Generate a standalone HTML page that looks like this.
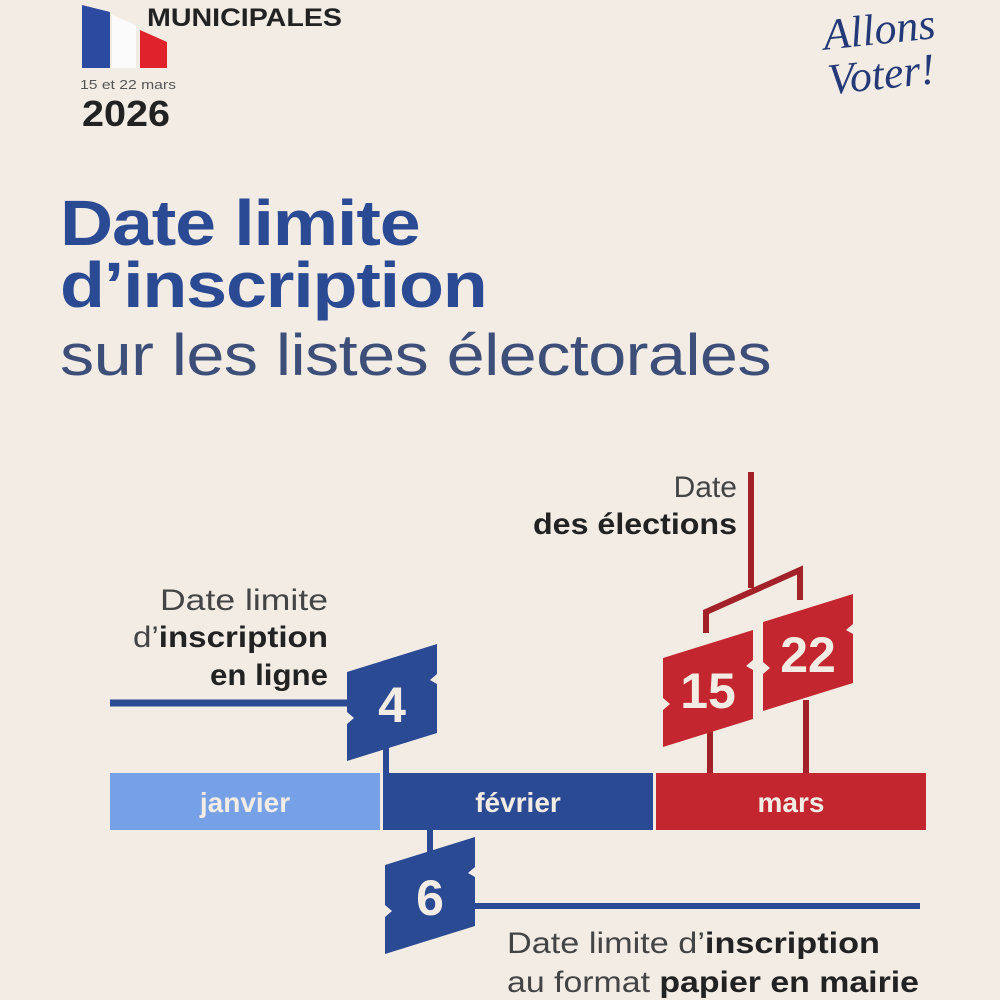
<!DOCTYPE html>
<html><head><meta charset="utf-8"><style>
html,body{margin:0;padding:0;background:#f3ece4;}
svg{display:block}
</style></head><body>
<svg width="1000" height="1000" viewBox="0 0 1000 1000" xmlns="http://www.w3.org/2000/svg" font-family="Liberation Sans, sans-serif">
<rect width="1000" height="1000" fill="#f3ece4"/>
<!-- flag -->
<polygon points="82,5 110,12 110,68 82,68" fill="#2b4aa0"/>
<polygon points="112,15 136,25 136,68 112,68" fill="#fbfbfb"/>
<polygon points="140,30 167,42 167,68 140,68" fill="#e0222a"/>
<text x="147" y="26" font-size="25" font-weight="bold" fill="#222" textLength="195" lengthAdjust="spacingAndGlyphs">MUNICIPALES</text>
<text x="80" y="89" font-size="13" fill="#555" textLength="96" lengthAdjust="spacingAndGlyphs">15 et 22 mars</text>
<text x="82" y="126" font-size="36" font-weight="bold" fill="#222" textLength="88" lengthAdjust="spacingAndGlyphs">2026</text>
<text x="825" y="45" font-size="44" font-style="italic" fill="#243a78" font-family="Liberation Serif, serif" transform="rotate(-6 870 50)">Allons</text>
<text x="828" y="90" font-size="44" font-style="italic" fill="#243a78" font-family="Liberation Serif, serif" transform="rotate(-6 870 80)">Voter!</text>
<!-- title -->
<g transform="translate(60,0) scale(1.15,1)">
<text x="0" y="245" font-size="64" font-weight="bold" fill="#2b4a94" letter-spacing="-1">Date limite</text>
<text x="0" y="307" font-size="64" font-weight="bold" fill="#2b4a94" letter-spacing="-1">d’inscription</text>
</g>
<g transform="translate(60,0) scale(1.18,1)">
<text x="0" y="375" font-size="58" fill="#3d4f78" letter-spacing="-0.5">sur les listes électorales</text>
</g>
<!-- labels -->
<g font-size="30" fill="#222" text-anchor="end">
<text x="737" y="497" fill="#444">Date</text>
<text x="737" y="534" font-weight="bold" textLength="204" lengthAdjust="spacingAndGlyphs">des élections</text>
<text x="328" y="610" fill="#444" textLength="168" lengthAdjust="spacingAndGlyphs">Date limite</text>
<text x="328" y="647" textLength="195" lengthAdjust="spacingAndGlyphs"><tspan fill="#444">d’</tspan><tspan font-weight="bold">inscription</tspan></text>
<text x="328" y="685" font-weight="bold" textLength="118" lengthAdjust="spacingAndGlyphs">en ligne</text>
</g>
<g font-size="30" fill="#222">
<text x="507" y="953" textLength="373" lengthAdjust="spacingAndGlyphs"><tspan fill="#444">Date limite d’</tspan><tspan font-weight="bold">inscription</tspan></text>
<text x="507" y="992" textLength="412" lengthAdjust="spacingAndGlyphs"><tspan fill="#444">au format </tspan><tspan font-weight="bold">papier en mairie</tspan></text>
</g>
<!-- lines -->
<line x1="110" y1="703" x2="355" y2="703" stroke="#2b4a94" stroke-width="7"/>
<line x1="386" y1="740" x2="386" y2="780" stroke="#2b4a94" stroke-width="6"/>
<line x1="430" y1="825" x2="430" y2="870" stroke="#2b4a94" stroke-width="6"/>
<line x1="465" y1="906" x2="920" y2="906" stroke="#2b4a94" stroke-width="6"/>
<line x1="710" y1="730" x2="710" y2="780" stroke="#a3222a" stroke-width="6"/>
<line x1="806" y1="700" x2="806" y2="780" stroke="#a3222a" stroke-width="6"/>
<polyline points="751,472 751,588" fill="none" stroke="#a3222a" stroke-width="6"/>
<polyline points="706,633 706,612 800,570 800,600" fill="none" stroke="#a3222a" stroke-width="6"/>
<!-- month bar -->
<rect x="110" y="773" width="270" height="57" fill="#77a1e6"/>
<rect x="383" y="773" width="270" height="57" fill="#2b4a94"/>
<rect x="656" y="773" width="270" height="57" fill="#c3262e"/>
<g font-size="28" font-weight="bold" fill="#f3ece4" text-anchor="middle">
<text x="245" y="812">janvier</text>
<text x="518" y="812">février</text>
<text x="791" y="812">mars</text>
</g>
<!-- badges -->
<defs>
<polygon id="bd" points="-45,-30 45,-58 45,-28 38,-22 45,-18 45,31 -45,59 -45,22 -38,16 -45,10"/>
</defs>
<g transform="translate(392,702)"><use href="#bd" fill="#2b4a94"/><text x="0" y="20" font-size="50" font-weight="bold" fill="#f3ece4" text-anchor="middle">4</text></g>
<g transform="translate(430,895)"><use href="#bd" fill="#2b4a94"/><text x="0" y="20" font-size="50" font-weight="bold" fill="#f3ece4" text-anchor="middle">6</text></g>
<g transform="translate(708,688)"><use href="#bd" fill="#c3262e"/><text x="0" y="20" font-size="50" font-weight="bold" fill="#f3ece4" text-anchor="middle">15</text></g>
<g transform="translate(808,652)"><use href="#bd" fill="#c3262e"/><text x="0" y="20" font-size="50" font-weight="bold" fill="#f3ece4" text-anchor="middle">22</text></g>
</svg>
</body></html>
